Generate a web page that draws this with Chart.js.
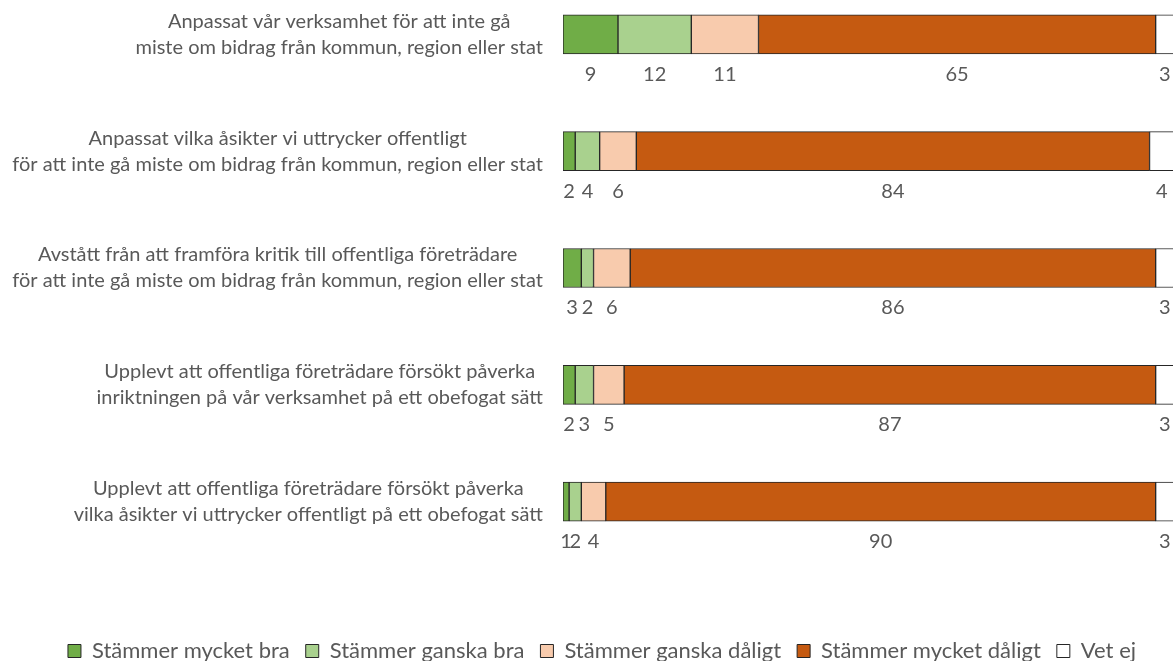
<!DOCTYPE html>
<html>
<head>
<meta charset="utf-8">
<script src="https://cdn.jsdelivr.net/npm/chart.js@4/dist/chart.umd.min.js"></script>
<style>
  html, body { margin: 0; padding: 0; background: #fff; overflow: hidden; }
  #wrap { position: relative; width: 1173px; height: 661px; overflow: hidden; }
  #chart { position: absolute; left: 0; top: -30px; }
</style>
</head>
<body>
<div id="wrap">
  <canvas id="chart" width="1180" height="710"></canvas>
</div>
<script>
// Categories (two lines each, as in the original).
var categories = [
  ["Anpassat vår verksamhet för att inte gå", "miste om bidrag från kommun, region eller stat"],
  ["Anpassat vilka åsikter vi uttrycker offentligt", "för att inte gå miste om bidrag från kommun, region eller stat"],
  ["Avstått från att framföra kritik till offentliga företrädare", "för att inte gå miste om bidrag från kommun, region eller stat"],
  ["Upplevt att offentliga företrädare försökt påverka", "inriktningen på vår verksamhet på ett obefogat sätt"],
  ["Upplevt att offentliga företrädare försökt påverka", "vilka åsikter vi uttrycker offentligt på ett obefogat sätt"]
];

// Series values (percent).
var mycketBra = [9, 2, 3, 2, 1];
var ganskaBra = [12, 4, 2, 3, 2];
var ganskaDaligt = [11, 6, 6, 5, 4];
var mycketDaligt = [65, 84, 86, 87, 90];
var vetEj = [3, 4, 3, 3, 3];

var seriesNames = [
  "Stämmer mycket bra",
  "Stämmer ganska bra",
  "Stämmer ganska dåligt",
  "Stämmer mycket dåligt",
  "Vet ej"
];

var textColor = "#595959";
var fontFamily = "Lato, 'Open Sans', sans-serif";

function makeSet(label, data, color) {
  return {
    label: label,
    data: data,
    backgroundColor: color,
    borderColor: "#262626",
    borderWidth: 1,
    borderSkipped: false,
    barThickness: 39
  };
}

// Category labels: each block centred on its own lines, right edge at the axis.
var categoryLabels = {
  id: "categoryLabels",
  afterDraw: function (chart) {
    var ctx = chart.ctx;
    var yScale = chart.scales.y;
    var rightEdge = 543;
    var lineHeight = 26;
    ctx.save();
    ctx.font = "20px " + fontFamily;
    ctx.fillStyle = textColor;
    ctx.textAlign = "center";
    ctx.textBaseline = "middle";
    categories.forEach(function (lines, i) {
      var maxW = 0;
      lines.forEach(function (l) {
        maxW = Math.max(maxW, ctx.measureText(l).width);
      });
      var cx = rightEdge - maxW / 2;
      var cy = yScale.getPixelForValue(i);
      lines.forEach(function (l, k) {
        ctx.fillText(l, cx, cy + (k - (lines.length - 1) / 2) * lineHeight);
      });
    });
    ctx.restore();
  }
};

// Value labels under each segment.
var valueLabels = {
  id: "valueLabels",
  afterDatasetsDraw: function (chart) {
    var ctx = chart.ctx;
    ctx.save();
    ctx.font = "20px " + fontFamily;
    ctx.fillStyle = textColor;
    ctx.textAlign = "center";
    ctx.textBaseline = "middle";
    chart.data.datasets.forEach(function (ds, i) {
      var meta = chart.getDatasetMeta(i);
      meta.data.forEach(function (bar, j) {
        var p = bar.getProps(["x", "base", "y"], true);
        ctx.fillText(String(ds.data[j]), (p.x + p.base) / 2, p.y + 40);
      });
    });
    ctx.restore();
  }
};

var ctx = document.getElementById("chart").getContext("2d");
new Chart(ctx, {
  type: "bar",
  data: {
    labels: categories,
    datasets: [
      makeSet(seriesNames[0], mycketBra, "#70AD47"),
      makeSet(seriesNames[1], ganskaBra, "#A9D18E"),
      makeSet(seriesNames[2], ganskaDaligt, "#F8CBAD"),
      makeSet(seriesNames[3], mycketDaligt, "#C55A11"),
      makeSet(seriesNames[4], vetEj, "#FFFFFF")
    ]
  },
  options: {
    indexAxis: "y",
    responsive: false,
    animation: false,
    layout: {
      padding: { top: 6, bottom: 8, left: 30, right: 6 }
    },
    scales: {
      x: {
        stacked: true,
        min: 0,
        max: 100,
        grid: { display: false },
        border: { display: false },
        ticks: { display: false },
        afterFit: function (scale) {
          scale.height = 64;
        }
      },
      y: {
        stacked: true,
        grid: { display: false },
        border: { display: false },
        ticks: { display: false },
        afterFit: function (scale) {
          scale.width = 533;
        }
      }
    },
    plugins: {
      legend: {
        position: "bottom",
        labels: {
          boxWidth: 13,
          boxHeight: 13,
          padding: 16,
          color: textColor,
          font: { size: 22, family: fontFamily }
        }
      },
      tooltip: { enabled: false }
    }
  },
  plugins: [categoryLabels, valueLabels]
});
</script>
</body>
</html>
